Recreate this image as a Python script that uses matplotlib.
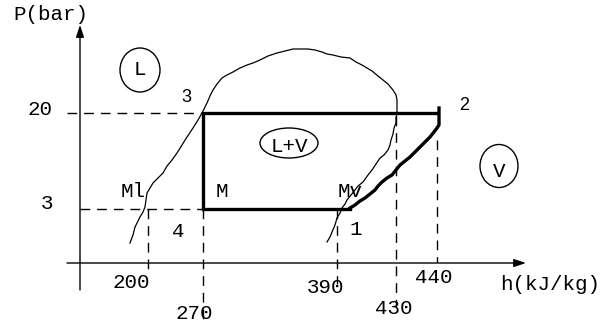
import numpy as np
import matplotlib
matplotlib.use("Agg")
import matplotlib.pyplot as plt
from matplotlib.patches import Ellipse

# valeurs du diagramme P-h (schéma, axes non linéaires)
h_values = [200, 270, 390, 430, 440]      # kJ/kg
p_values = [3, 20]                        # bar
h_labels = ["200", "270", "390", "430", "440"]
p_labels = ["3", "20"]

# position des graduations sur le schéma (pixels)
h_pos = [148, 203, 337, 396, 437]
p_pos = [209, 113]

def hx(h):
    return h_pos[h_values.index(h)]

def py(p):
    return p_pos[p_values.index(p)]

# courbe de saturation (tracée à main levée)
dome_x = [130, 133, 135, 138, 140, 143, 145, 146, 147, 150, 153, 158, 163, 167, 172, 177,
          182, 187, 193, 198, 202, 205, 207, 210, 213, 217, 222, 227, 233, 240, 247, 253,
          260, 268, 277, 285, 293, 300, 308, 315, 322, 327, 333, 341, 350, 356, 362, 367,
          372, 378, 383, 388, 393, 396, 397, 397, 397, 396, 396, 394, 393, 391, 390, 388,
          384, 380, 376, 372, 368, 363, 358, 355, 351, 347, 345, 342, 340, 337, 335, 332,
          330, 327]
dome_y = [243, 235, 227, 221, 217, 212, 207, 200, 193, 188, 183, 178, 173, 166, 160, 153,
          145, 137, 128, 120, 113, 107, 103, 96, 90, 84, 78, 75, 72, 68, 65, 63,
          60, 56, 53, 51, 49, 49, 49, 50, 52, 54, 55, 57, 58, 62, 65, 68,
          71, 76, 80, 84, 90, 95, 100, 107, 113, 118, 123, 128, 134, 140, 145, 150,
          155, 158, 164, 170, 175, 182, 186, 190, 195, 200, 204, 208, 213, 218, 225, 232,
          237, 242]

# compression 1 -> 2
comp_x = [350, 355, 360, 365, 370, 375, 378, 382, 387, 392, 396, 400, 405, 410, 415,
          420, 425, 430, 434, 437, 439, 439, 439]
comp_y = [208, 205, 201, 198, 194, 190, 186, 182, 178, 175, 170, 165, 161, 157, 152,
          147, 142, 137, 132, 128, 125, 118, 108]

fig = plt.figure(figsize=(6.09, 3.24), dpi=100)
ax = fig.add_axes([0, 0, 1, 1])
ax.set_xlim(0, 609)
ax.set_ylim(324, 0)
ax.axis("off")

mono = "Liberation Mono"
sans = "Liberation Sans"
dash = dict(color="k", lw=1, ls=(0, (7, 5)))

# axes
arrow = dict(arrowstyle="-|>,head_length=0.6,head_width=0.2", lw=1, color="k",
             mutation_scale=12, shrinkA=0, shrinkB=0)
ax.annotate("", xy=(80, 25), xytext=(80, 290), arrowprops=arrow)
ax.annotate("", xy=(526, 263), xytext=(67, 263), arrowprops=arrow)

# pointillés
ax.plot([67, hx(440)], [py(20), py(20)], **dash)
ax.plot([80, hx(270)], [py(3), py(3)], **dash)
ax.plot([hx(200), hx(200)], [py(3), 270], **dash)
ax.plot([hx(270), hx(270)], [py(3), 320], **dash)
ax.plot([hx(390), hx(390)], [py(3), 284], **dash)
ax.plot([hx(430), hx(430)], [py(20) + 3, 307], **dash)
ax.plot([hx(440), hx(440)], [140, 262], **dash)

# dôme
ax.plot(dome_x, dome_y, color="k", lw=0.9)

# cycle
ax.plot([comp_x[0], hx(270), hx(270), hx(440)], [py(3), py(3), py(20), py(20)],
        color="k", lw=2.4, solid_joinstyle="miter")
ax.plot(comp_x, comp_y, color="k", lw=2.4)

# textes
fs = 15
ax.text(51, 20, "P(bar)", fontsize=fs, family=mono, ha="center", va="baseline")
ax.text(550, 290, "h(kJ/kg)", fontsize=fs, family=mono, ha="center", va="baseline")
ax.text(40, 115, p_labels[1], fontsize=fs, family=mono, ha="center", va="baseline")
ax.text(47, 209, p_labels[0], fontsize=fs, family=mono, ha="center", va="baseline")
h_text = [(131, 288), (194, 319), (325, 293), (394, 314), (434, 283)]
for lab, (tx, ty) in zip(h_labels, h_text):
    ax.text(tx, ty, lab, fontsize=fs, family=mono, ha="center", va="baseline")

ax.text(133, 197, "Ml", fontsize=fs, family=mono, ha="center", va="baseline")
ax.text(222, 197, "M", fontsize=fs, family=mono, ha="center", va="baseline")
ax.text(350, 197, "Mv", fontsize=fs, family=mono, ha="center", va="baseline")
ax.text(178, 237, "4", fontsize=fs, family=mono, ha="center", va="baseline")
ax.text(356, 235, "1", fontsize=fs, family=mono, ha="center", va="baseline")
ax.text(186, 102, "3", fontsize=13, family=sans, ha="center", va="baseline")
ax.text(464, 110, "2", fontsize=13, family=sans, ha="center", va="baseline")

# zones
for cx, cy, w, h, lab, by in [(140, 70, 40, 44, "L", 75),
                              (289, 143, 58, 30, "L+V", 152),
                              (499, 166, 38, 43, "V", 177)]:
    ax.add_patch(Ellipse((cx, cy), w, h, fill=False, lw=1, color="k"))
    ax.text(cx, by, lab, fontsize=fs, family=mono, ha="center", va="baseline")

fig.savefig("out.png", dpi=100)
